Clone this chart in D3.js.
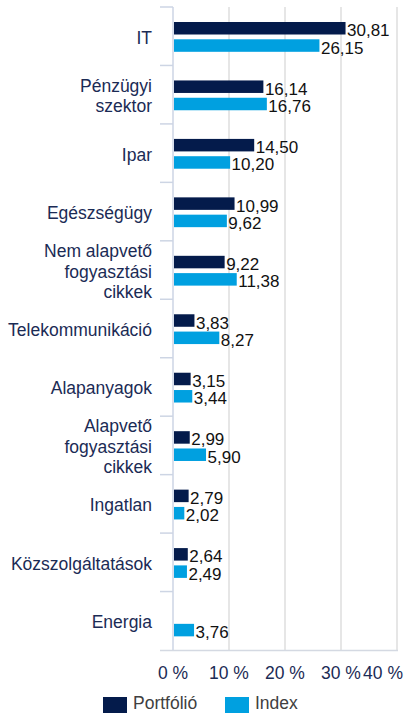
<!DOCTYPE html>
<html>
<head>
<meta charset="utf-8">
<script src="https://cdn.jsdelivr.net/npm/d3@7"></script>
<style>
  body { margin: 0; background: #fff; }
  svg { display: block; font-family: Arial, "Liberation Sans", Helvetica, sans-serif; }
</style>
</head>
<body>
<div id="chart"></div>
<script>
// categories, one label line per array entry
var categories = [
  ["IT"],
  ["Pénzügyi", "szektor"],
  ["Ipar"],
  ["Egészségügy"],
  ["Nem alapvető", "fogyasztási", "cikkek"],
  ["Telekommunikáció"],
  ["Alapanyagok"],
  ["Alapvető", "fogyasztási", "cikkek"],
  ["Ingatlan"],
  ["Közszolgáltatások"],
  ["Energia"]
];
var portfolio = [30.81, 16.14, 14.50, 10.99, 9.22, 3.83, 3.15, 2.99, 2.79, 2.64, null];
var index = [26.15, 16.76, 10.20, 9.62, 11.38, 8.27, 3.44, 5.90, 2.02, 2.49, 3.76];
var xTicks = [0, 10, 20, 30, 40];
var seriesNames = ["Portfólió", "Index"];

var width = 405, height = 714;
var colors = ["#041b4b", "#00a0e0"];
var fs = 17.5;

var svg = d3.select("#chart").append("svg")
    .attr("width", width)
    .attr("height", height);

var keys = categories.map(function(d) { return d.join(" "); });

var x = d3.scaleLinear().domain([0, 40]).range([173, 397]);
var y = d3.scaleBand().domain(keys).range([7, 650]);

// grid
svg.selectAll(".grid")
    .data(xTicks.slice(1))
    .enter().append("line")
    .attr("class", "grid")
    .attr("x1", function(d) { return x(d); })
    .attr("x2", function(d) { return x(d); })
    .attr("y1", 7)
    .attr("y2", 650)
    .attr("stroke", "#d9d9d9")
    .attr("stroke-width", 1.3);

// bottom axis line
svg.append("line")
    .attr("x1", 160).attr("x2", 398)
    .attr("y1", 650.5).attr("y2", 650.5)
    .attr("stroke", "#d4d9e2")
    .attr("stroke-width", 1.5);

// left axis + category ticks
svg.append("line")
    .attr("x1", 173).attr("x2", 173)
    .attr("y1", 7).attr("y2", 650)
    .attr("stroke", "#cdd5e4")
    .attr("stroke-width", 1.5);

var bounds = keys.map(function(k) { return y(k); });
svg.selectAll(".ctick")
    .data(bounds)
    .enter().append("line")
    .attr("class", "ctick")
    .attr("x1", 160).attr("x2", 173)
    .attr("y1", function(d) { return d; })
    .attr("y2", function(d) { return d; })
    .attr("stroke", "#cdd5e4")
    .attr("stroke-width", 1.5);

// category labels
var lineH = 20.5;
svg.selectAll(".clabel")
    .data(categories)
    .enter().append("text")
    .attr("class", "clabel")
    .attr("text-anchor", "end")
    .attr("font-size", fs)
    .attr("fill", "#1b2b55")
    .each(function(d, i) {
      var cy = y(keys[i]) + y.bandwidth() / 2 + 7.5 - (d.length - 1) * lineH / 2;
      d3.select(this).selectAll("tspan")
        .data(d)
        .enter().append("tspan")
        .attr("x", 152)
        .attr("y", function(t, j) { return cy + j * lineH; })
        .text(function(t) { return t; });
    });

// bars
var barH = 12.5;
var offsets = [15, 32.3];
[portfolio, index].forEach(function(series, s) {
  var g = svg.append("g");
  series.forEach(function(v, i) {
    if (v === null) return;
    var top = y(keys[i]) + offsets[s];
    g.append("rect")
      .attr("x", x(0) + 1)
      .attr("y", top)
      .attr("width", x(v) - x(0) - 1)
      .attr("height", barH)
      .attr("fill", colors[s]);
    g.append("text")
      .attr("x", x(v) + 1.5)
      .attr("y", top + barH / 2 + 8)
      .attr("font-size", 17)
      .attr("fill", "#111")
      .text(d3.format(".2f")(v).replace(".", ","));
  });
});

// x tick labels (last one kept inside the frame)
svg.selectAll(".xlabel")
    .data(xTicks)
    .enter().append("text")
    .attr("class", "xlabel")
    .attr("x", function(d, i) { return i === xTicks.length - 1 ? 403 : x(d); })
    .attr("y", 679)
    .attr("text-anchor", function(d, i) { return i === xTicks.length - 1 ? "end" : "middle"; })
    .attr("font-size", fs)
    .attr("fill", "#1b2b55")
    .text(function(d) { return d + " %"; });

// legend
var legendX = [103, 225];
seriesNames.forEach(function(name, s) {
  svg.append("rect")
    .attr("x", legendX[s])
    .attr("y", 697)
    .attr("width", 24)
    .attr("height", 16)
    .attr("fill", colors[s]);
  svg.append("text")
    .attr("x", legendX[s] + 30)
    .attr("y", 709)
    .attr("font-size", fs)
    .attr("fill", "#404040")
    .text(name);
});
</script>
</body>
</html>
